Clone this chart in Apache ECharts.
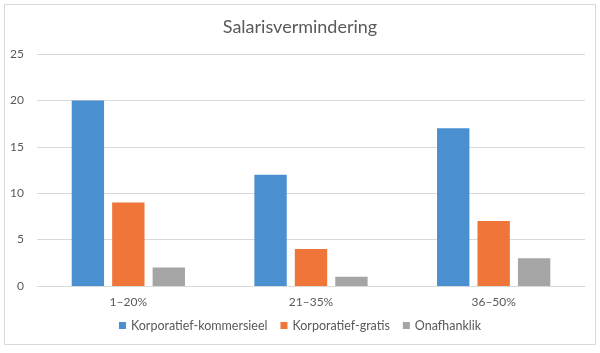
<!DOCTYPE html>
<html>
<head>
<meta charset="utf-8">
<script src="https://cdn.jsdelivr.net/npm/echarts@6/dist/echarts.min.js"></script>
<style>
html, body { margin: 0; padding: 0; background: #fff; }
#main { width: 600px; height: 353px; }
</style>
</head>
<body>
<div id="main"></div>
<script>
// Salarisvermindering - gegroepeerde kolomme
var categories = ['1–20%', '21–35%', '36–50%'];
var kommersieel = [20, 12, 17];
var gratis = [9, 4, 7];
var onafhanklik = [2, 1, 3];
var seriesNames = ['Korporatief-kommersieel', 'Korporatief-gratis', 'Onafhanklik'];
var yTicks = { min: 0, max: 25, interval: 5 };

var myChart = echarts.init(document.getElementById('main'));
var font = 'Lato, "Open Sans", sans-serif';

var option = {
    animation: false,
    color: ['#4A8FD0', '#EF7538', '#A5A5A5'],
    textStyle: { fontFamily: font },
    graphic: [{
        type: 'rect',
        shape: { x: 4.5, y: 4.5, width: 591, height: 340 },
        style: { fill: 'none', stroke: '#D9D9D9', lineWidth: 1 },
        silent: true
    }],
    title: {
        text: 'Salarisvermindering',
        left: 'center',
        top: 13,
        textStyle: { fontFamily: font, fontSize: 18, fontWeight: 'normal', color: '#595959' }
    },
    legend: {
        bottom: 16,
        left: 'center',
        itemWidth: 7,
        itemHeight: 7,
        itemGap: 13,
        icon: 'rect',
        textStyle: { fontFamily: font, fontSize: 12.5, color: '#595959' },
        data: seriesNames
    },
    grid: { left: 37, right: 15, top: 54, bottom: 67 },
    xAxis: {
        type: 'category',
        data: categories,
        axisTick: { show: false },
        axisLine: { lineStyle: { color: '#D9D9D9' } },
        axisLabel: { color: '#595959', fontSize: 12, margin: 10, fontFamily: font }
    },
    yAxis: {
        type: 'value',
        min: yTicks.min,
        max: yTicks.max,
        interval: yTicks.interval,
        axisLine: { show: false },
        axisTick: { show: false },
        splitLine: { lineStyle: { color: '#D9D9D9' } },
        axisLabel: { color: '#595959', fontSize: 12, margin: 13, fontFamily: font }
    },
    series: [
        { name: seriesNames[0], type: 'bar', data: kommersieel, barGap: '25%', barCategoryGap: '38%' },
        { name: seriesNames[1], type: 'bar', data: gratis, barGap: '25%', barCategoryGap: '38%' },
        { name: seriesNames[2], type: 'bar', data: onafhanklik, barGap: '25%', barCategoryGap: '38%' }
    ]
};

myChart.setOption(option);
</script>
</body>
</html>
